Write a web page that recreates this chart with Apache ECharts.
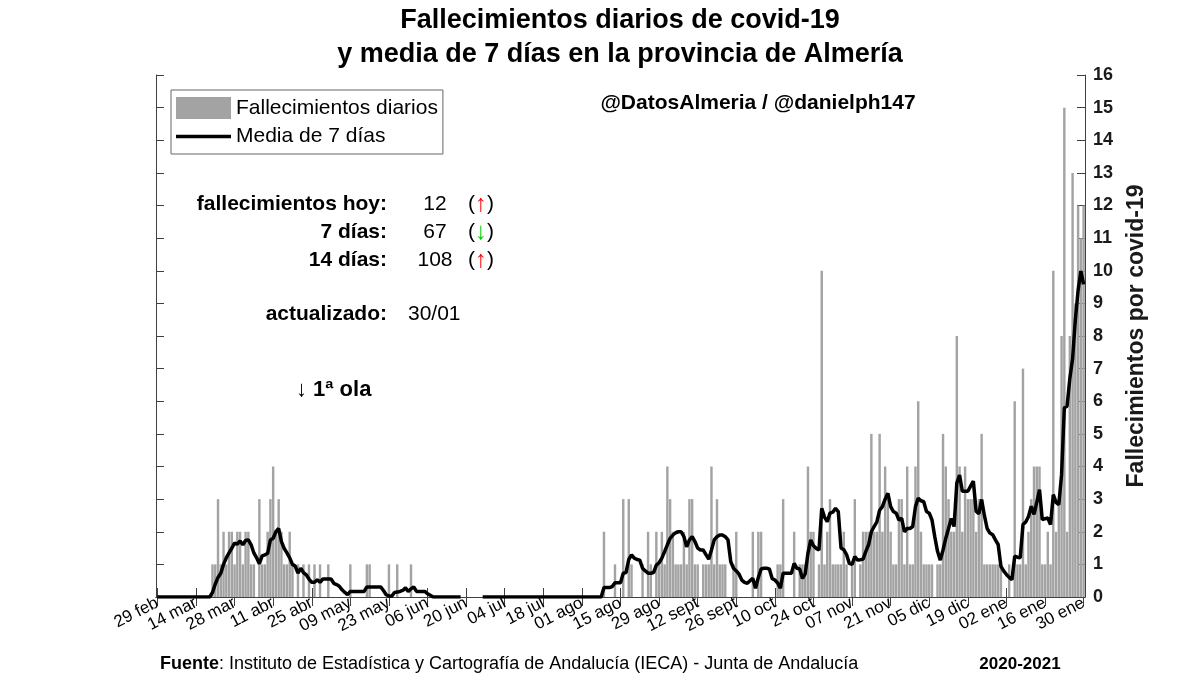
<!DOCTYPE html>
<html><head><meta charset="utf-8">
<script src="https://cdn.jsdelivr.net/npm/echarts@6/dist/echarts.min.js"></script>
<style>html,body{margin:0;padding:0;background:#fff}#c{width:1200px;height:675px}</style>
</head><body><div id="c"></div>
<script>
// Daily deaths, 29 feb 2020 -> 30 ene 2021 (one value per day, per month)
const feb = [0];
const mar = [0,0,0,0,0,0,0,0,0,0,0,0,0,0,0,0,0,0,0,1,1,3,1,2,1,2,2,1,2,2,1];
const abr = [2,2,1,1,0,3,1,1,2,3,4,2,3,2,1,1,2,1,0,1,0,1,0,1,0,1,0,1,0,0];
const may = [1,0,0,0,0,0,0,0,1,0,0,0,0,0,1,1,0,0,0,0,0,0,1,0,0,1,0,0,0,0,1];
const jun = [0,0,0,0,0,0,0,0,0,0,0,0,0,0,0,0,0,0,0,0,0,0,0,0,0,0,0,0,0,0];
const jul = [0,0,0,0,0,0,0,0,0,0,0,0,0,0,0,0,0,0,0,0,0,0,0,0,0,0,0,0,0,0,0];
const ago = [0,0,0,0,0,0,0,0,2,0,0,0,1,0,0,3,0,3,1,0,0,0,1,0,2,1,0,2,1,2,1];
const sep = [4,3,2,1,1,1,2,1,3,3,1,1,0,1,1,1,4,1,3,1,1,1,0,0,1,2,0,0,0,0];
const oct = [0,2,0,2,2,0,0,0,0,0,1,1,3,0,0,0,2,0,1,1,1,4,2,2,0,1,10,1,2,3,1];
const nov = [1,1,1,2,1,0,1,3,0,1,2,2,2,5,2,2,5,2,4,3,2,1,1,3,3,1,4,1,1,4];
const dic = [6,2,1,1,1,1,0,1,1,5,4,3,2,2,8,4,2,4,3,3,3,2,3,5,1,1,1,1,1,1,1];
const ene = [0,0,1,0,6,1,1,7,1,2,3,4,4,4,1,1,2,1,10,2,3,8,15,2,8,13,9,12,11,12];

// 7-day mean as drawn (null = gap in the line)
const mFeb = [0];
const mMar = [0,0,0,0,0,0,0,0,0,0,0,0,0,0,0,0,0,0,0,0.14,0.4,0.6,0.73,1.0,1.2,1.35,1.5,1.65,1.62,1.72,1.6];
const mAbr = [1.73,1.75,1.6,1.35,1.2,1.02,1.26,1.29,1.34,1.75,1.8,2.0,2.1,1.7,1.49,1.35,1.2,1.0,0.95,0.73,0.88,0.75,0.68,0.55,0.45,0.45,0.53,0.45,0.55,0.55];
const mMay = [0.55,0.55,0.42,0.38,0.33,0.22,0.14,0.07,0.17,0.17,0.17,0.17,0.17,0.17,0.31,0.31,0.31,0.31,0.31,0.31,0.2,0.07,0.03,0.02,0.14,0.15,0.17,0.2,0.28,0.17,0.25];
const mJun = [0.31,0.17,0.17,0.17,0.17,0.1,0.05,0,0,0,0,0,0,0,0,0,0,0,null,null,null,null,null,null,null,0,0,0,0,0];
const mJul = [0,0,0,0,0,0,0,0,0,0,0,0,0,0,0,0,0,0,0,0,0,0,0,0,0,0,0,0,0,0,0];
const mAgo = [0,0,0,0,0,0,0,0,0.29,0.29,0.29,0.32,0.44,0.44,0.44,0.73,0.75,1.15,1.29,1.19,1.15,1.13,0.88,0.8,0.73,0.73,0.75,0.98,1.05,1.19,1.39];
const mSep = [1.6,1.8,1.9,1.97,2.0,2.0,1.85,1.54,1.75,1.85,1.7,1.5,1.44,1.44,1.3,1.16,1.44,1.75,1.85,1.9,1.9,1.85,1.75,1.08,0.88,0.8,0.7,0.52,0.45,0.42];
const mOct = [0.5,0.57,0.27,0.6,0.86,0.88,0.88,0.86,0.57,0.52,0.43,0.27,0.73,0.73,0.73,0.73,1.03,0.88,0.86,0.57,0.71,1.34,1.75,1.57,1.49,1.44,2.72,2.45,2.31,2.57,2.6];
const mNov = [2.72,2.62,1.5,1.45,1.3,1.03,1.0,1.24,1.13,1.14,1.16,1.4,1.6,2.0,2.16,2.3,2.66,2.77,3.0,3.18,2.77,2.62,2.57,2.36,2.41,2.0,2.1,2.1,2.16,2.77];
const mDic = [3.03,2.95,2.92,2.62,2.57,2.36,1.85,1.4,1.13,1.44,1.8,2.1,2.41,2.16,3.49,3.74,3.24,3.24,3.24,3.4,3.55,2.63,2.55,2.99,2.5,2.1,1.96,1.91,1.75,1.61,0.94];
const mEne = [0.8,0.69,0.6,0.53,1.25,1.22,1.2,2.22,2.3,2.47,2.78,2.53,2.9,3.29,2.37,2.4,2.42,2.22,3.14,2.9,2.83,3.75,5.8,5.85,6.7,7.3,8.5,9.4,9.99,9.58];

// Tick labels, one every 14 days starting at 29 feb
const tickLabels = ['29 feb','14 mar','28 mar','11 abr','25 abr','09 may','23 may','06 jun','20 jun','04 jul','18 jul','01 ago','15 ago','29 ago','12 sept','26 sept','10 oct','24 oct','07 nov','21 nov','05 dic','19 dic','02 ene','16 ene','30 ene'];

const deaths = [].concat(feb, mar, abr, may, jun, jul, ago, sep, oct, nov, dic, ene);
const mean7 = [].concat(mFeb, mMar, mAbr, mMay, mJun, mJul, mAgo, mSep, mOct, mNov, mDic, mEne);
const days = deaths.map((_, i) => String(i));

const FONT = '"Liberation Sans", Arial, Helvetica, sans-serif';
const AX = '#404040';
const every14 = (i) => i % 14 === 0;

const chart = echarts.init(document.getElementById('c'), null, {renderer: 'canvas'});

function txt(x, y, text, o) {
  return {
    type: 'text', x: x, y: y, z: 100,
    style: Object.assign({
      text: text, fontFamily: FONT, fontSize: 21, fontWeight: 'normal', fill: '#000',
      align: 'left', verticalAlign: 'middle'
    }, o || {})
  };
}

const option = {
  animation: false,
  backgroundColor: '#fff',
  textStyle: {fontFamily: FONT},
  grid: {left: 156, right: 115, top: 75, bottom: 78},
  legend: {
    orient: 'vertical', left: 171, top: 90,
    padding: [7, 5, 7, 5], itemGap: 7, itemWidth: 55, itemHeight: 22,
    borderColor: '#666', borderWidth: 1, backgroundColor: '#fff',
    textStyle: {fontSize: 21, color: '#000', fontFamily: FONT},
    data: [
      {name: 'Fallecimientos diarios', icon: 'rect'},
      {name: 'Media de 7 días', icon: 'path://M0 0H55V3.5H0Z'}
    ]
  },
  xAxis: [
    {
      type: 'category', data: days, position: 'bottom', boundaryGap: true,
      axisLine: {show: true, lineStyle: {color: AX, width: 1}},
      axisTick: {show: true, inside: true, length: 9, interval: every14, alignWithLabel: true, lineStyle: {color: AX}},
      axisLabel: {interval: every14, formatter: (v, i) => tickLabels[i / 14], rotate: 27, fontSize: 17, color: '#000', margin: 5, fontFamily: FONT},
      splitLine: {show: false}
    },
    {
      type: 'category', data: days, position: 'top', boundaryGap: true,
      axisLine: {show: true, lineStyle: {color: AX, width: 1}},
      axisTick: {show: true, inside: true, length: 9, interval: every14, alignWithLabel: true, lineStyle: {color: AX}},
      axisLabel: {show: false},
      splitLine: {show: false}
    }
  ],
  yAxis: [
    {
      type: 'value', position: 'right', min: 0, max: 16, interval: 1,
      axisLine: {show: true, lineStyle: {color: AX, width: 1}},
      axisTick: {show: true, inside: true, length: 8, lineStyle: {color: AX}},
      axisLabel: {fontSize: 18, fontWeight: 'bold', color: '#1a1a1a', margin: 8, fontFamily: FONT},
      splitLine: {show: false},
      name: 'Fallecimientos por covid-19', nameLocation: 'middle', nameRotate: 90, nameGap: 40,
      nameTextStyle: {fontSize: 23, fontWeight: 'bold', color: '#1a1a1a', fontFamily: FONT}
    },
    {
      type: 'value', position: 'left', min: 0, max: 16, interval: 1,
      axisLine: {show: true, lineStyle: {color: AX, width: 1}},
      axisTick: {show: true, inside: true, length: 8, lineStyle: {color: AX}},
      axisLabel: {show: false},
      splitLine: {show: false}
    }
  ],
  series: [
    {
      name: 'Fallecimientos diarios', type: 'bar', data: deaths,
      xAxisIndex: 0, yAxisIndex: 0, barCategoryGap: '12%',
      itemStyle: {color: '#a3a3a3'}
    },
    {
      name: 'Media de 7 días', type: 'line', data: mean7,
      xAxisIndex: 0, yAxisIndex: 0, symbol: 'none', showSymbol: false, connectNulls: false,
      lineStyle: {color: '#000', width: 3.5}, itemStyle: {color: '#000'}
    }
  ],
  graphic: [
    txt(620, 21, 'Fallecimientos diarios de covid-19', {fontSize: 27, fontWeight: 'bold', align: 'center'}),
    txt(620, 55, 'y media de 7 días en la provincia de Almería', {fontSize: 27, fontWeight: 'bold', align: 'center'}),
    txt(758, 103, '@DatosAlmeria / @danielph147', {fontSize: 21, fontWeight: 'bold', align: 'center'}),
    txt(387, 204, 'fallecimientos hoy:', {fontWeight: 'bold', align: 'right'}),
    txt(387, 232, '7 días:', {fontWeight: 'bold', align: 'right'}),
    txt(387, 260, '14 días:', {fontWeight: 'bold', align: 'right'}),
    txt(387, 314, 'actualizado:', {fontWeight: 'bold', align: 'right'}),
    txt(435, 204, '12', {align: 'center'}),
    txt(435, 232, '67', {align: 'center'}),
    txt(435, 260, '108', {align: 'center'}),
    txt(481, 204, '({r|↑})', {align: 'center', rich: {r: {fill: '#ff0000', fontSize: 24, fontFamily: FONT}}}),
    txt(481, 232, '({g|↓})', {align: 'center', rich: {g: {fill: '#00d000', fontSize: 24, fontFamily: FONT}}}),
    txt(481, 260, '({r|↑})', {align: 'center', rich: {r: {fill: '#ff0000', fontSize: 24, fontFamily: FONT}}}),
    txt(408, 314, '30/01'),
    txt(296, 390, '↓ 1ª ola', {fontWeight: 'bold', fontSize: 22}),
    txt(160, 664, '{b|Fuente}: Instituto de Estadística y Cartografía de Andalucía (IECA) - Junta de Andalucía',
        {fontSize: 18, rich: {b: {fontWeight: 'bold', fontSize: 18, fontFamily: FONT, fill: '#000'}}}),
    txt(1020, 664, '2020-2021', {fontSize: 17, fontWeight: 'bold', align: 'center'})
  ]
};
chart.setOption(option);
</script>
</body></html>
